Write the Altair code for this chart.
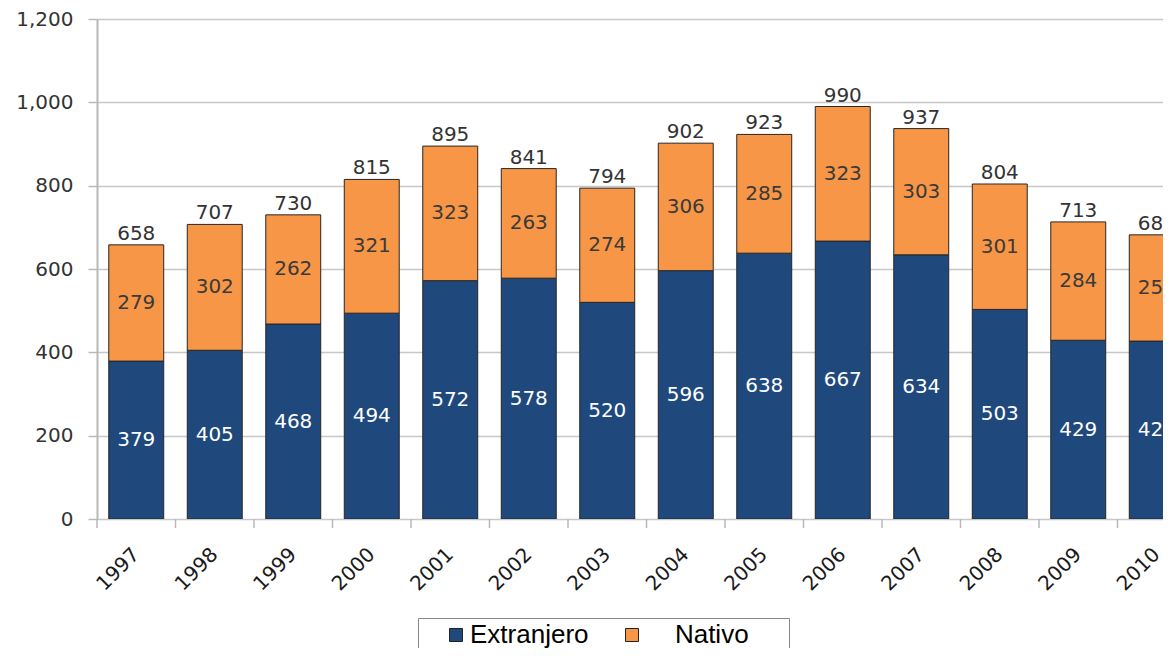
import altair as alt
import pandas as pd

years = ["1997", "1998", "1999", "2000", "2001", "2002", "2003",
         "2004", "2005", "2006", "2007", "2008", "2009", "2010"]
extranjero = [379, 405, 468, 494, 572, 578, 520, 596, 638, 667, 634, 503, 429, 427]
nativo = [279, 302, 262, 321, 323, 263, 274, 306, 285, 323, 303, 301, 284, 255]
totales = [658, 707, 730, 815, 895, 841, 794, 902, 923, 990, 937, 804, 713, 682]
series = ["Extranjero", "Nativo"]
colores = ["#1f497d", "#f79646"]
y_ticks = [0, 200, 400, 600, 800, 1000, 1200]

rows = []
for i, y in enumerate(years):
    rows.append({"year": y, "serie": "Extranjero", "valor": extranjero[i], "orden": 0})
    rows.append({"year": y, "serie": "Nativo", "valor": nativo[i], "orden": 1})
df = pd.DataFrame(rows)
df_tot = pd.DataFrame({"year": years, "total": totales})

FONT = "DejaVu Sans"
W = 1066
STEP = 78.5
xscale = alt.Scale(domain=years, range=[0, STEP * len(years)], paddingInner=0.3, paddingOuter=0.15)
yscale = alt.Scale(domain=[0, 1200], nice=False)

x_enc = alt.X("year:O", scale=xscale, sort=years,
              axis=alt.Axis(title=None, labelAngle=-45, labelAlign="right",
                            labelBaseline="middle", ticks=False, domain=False,
                            labelFont=FONT, labelFontSize=20, labelColor="#1a1a1a",
                            labelPadding=32, grid=False))

base = alt.Chart(df).transform_stack(
    stack="valor", groupby=["year"], as_=["y0", "y1"],
    sort=[alt.SortField("orden", order="ascending")]
).transform_calculate(mid="(datum.y0 + datum.y1) / 2")

nbsp = "\u00a0"
zw = "\u200b"
nativo_label = zw + nbsp * 4 + "Nativo" + nbsp * 5 + zw
legend = alt.Legend(
    orient="none", legendX=321, legendY=599, direction="horizontal", title=None,
    labelFont="Liberation Sans", labelFontSize=26, labelColor="black",
    symbolType="square", symbolSize=169, symbolStrokeColor="#222", symbolStrokeWidth=1,
    symbolOffset=21, labelOffset=1, padding=4, strokeColor="#888", fillColor="white",
    columnPadding=9,
    labelExpr="datum.label == 'Nativo' ? '" + nativo_label + "' : datum.label",
)

bars = base.mark_bar(stroke="#262626", strokeWidth=1, clip=True).encode(
    x=x_enc,
    y=alt.Y("y1:Q", scale=yscale,
            axis=alt.Axis(title=None, values=y_ticks, format=",d", grid=True,
                          gridColor="#c8c8c8", gridWidth=1.5, domainColor="#b8b8b8",
                          domainWidth=2, tickColor="#b8b8b8", tickWidth=1.5, tickSize=9,
                          labelFont=FONT, labelFontSize=20, labelColor="#333",
                          labelPadding=15)),
    y2="y0:Q",
    color=alt.Color("serie:N", scale=alt.Scale(domain=series, range=colores), legend=legend),
)

inner = base.mark_text(font=FONT, fontSize=20, baseline="middle", clip=True).encode(
    x=alt.X("year:O", scale=xscale, sort=years),
    y=alt.Y("mid:Q", scale=yscale),
    text=alt.Text("valor:Q"),
    color=alt.condition(alt.datum.serie == "Extranjero", alt.value("white"), alt.value("#3a3a3a")),
)

tops = alt.Chart(df_tot).mark_text(font=FONT, fontSize=20, baseline="bottom", dy=-1,
                                    color="#333", clip=True).encode(
    x=alt.X("year:O", scale=xscale, sort=years),
    y=alt.Y("total:Q", scale=yscale),
    text=alt.Text("total:Q"),
)

ticks = alt.Chart(df_tot).mark_rule(color="#b8b8b8", strokeWidth=1.5,
                                    xOffset=-STEP / 2).encode(
    x=alt.X("year:O", scale=xscale, sort=years),
    y=alt.value(500), y2=alt.value(509),
)

chart = alt.layer(bars, inner, tops, ticks).properties(
    width=W, height=500,
    autosize=alt.AutoSizeParams(type="none"),
    padding={"left": 89, "top": 11, "right": 0, "bottom": 129},
).configure_view(stroke=None)

chart.save("out.html", embed_options={"renderer": "svg", "actions": False})
